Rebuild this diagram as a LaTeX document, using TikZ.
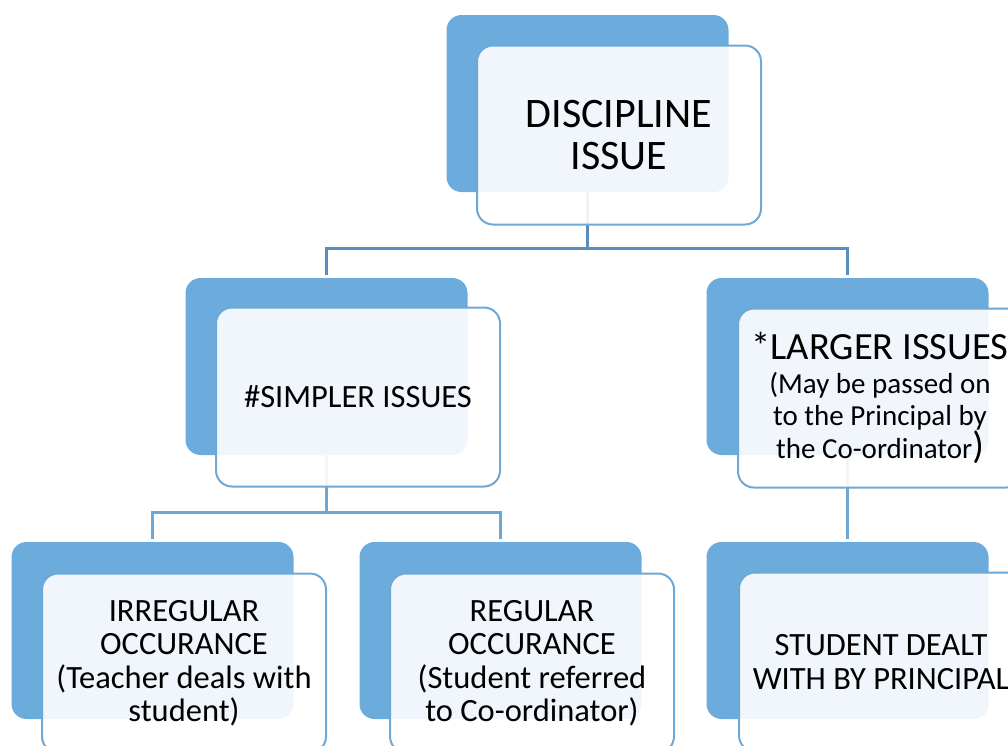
\documentclass[tikz,border=0pt]{standalone}
\usepackage{fontspec}
\setmainfont{Carlito}
\definecolor{backblue}{RGB}{108,172,220}
\definecolor{edgeblue}{RGB}{110,168,214}
\definecolor{linkdark}{RGB}{91,142,190}
\definecolor{linklight}{RGB}{108,168,214}
\tikzset{
  backbox/.style={fill=backblue, draw=none, rounded corners=15pt,
    minimum width=282pt, minimum height=177pt, inner sep=0pt},
  frontbox/.style={fill=white, fill opacity=0.9, text opacity=1, draw=edgeblue,
    draw opacity=1, line width=2pt, rounded corners=16pt,
    minimum width=284pt, minimum height=179pt, inner sep=0pt, align=center,
    text=black},
  linktop/.style={draw=linkdark, line width=2.6pt},
  linklow/.style={draw=linklight, line width=2.6pt},
  bigfont/.style={font=\fontsize{42}{42.5}\selectfont},
  midfont/.style={font=\fontsize{32.5}{33.5}\selectfont},
}
\begin{document}
\begin{tikzpicture}[x=1pt, y=-1pt]
\useasboundingbox (0,0) rectangle (1008,745);
\clip (0,0) rectangle (1008,745);

% coloured backing panels
\node[backbox] (topB)  at (587.5,103.5) {};
\node[backbox] (simpB) at (326.5,366.5) {};
\node[backbox] (largB) at (847.5,366.5) {};
\node[backbox] (irrB)  at (152.5,630.5) {};
\node[backbox] (regB)  at (500.5,630.5) {};
\node[backbox] (studB) at (847.5,630.5) {};

% junction points of the elbow connectors
\coordinate (j1) at (587.5,248.5);
\coordinate (j2) at (326.5,512.5);

% connectors
\draw[linktop] (topB.south) -- (j1);
\draw[linktop, shorten >=3pt] (j1) -| (simpB.north);
\draw[linktop, shorten >=3pt] (j1) -| (largB.north);
\draw[linklow] (simpB.south) -- (j2);
\draw[linklow, shorten >=3pt] (j2) -| (irrB.north);
\draw[linklow, shorten >=3pt] (j2) -| (regB.north);
\draw[linklow, shorten >=3pt] (largB.south) -- (studB.north);

% translucent text panels
\node[frontbox, bigfont] (topF) at (619,135) {DISCIPLINE\\ISSUE};
\node[frontbox, midfont] (simpF) at (358,397) {\#SIMPLER ISSUES};
\node[frontbox, font=\fontsize{29}{31.5}\selectfont] (largF) at (880,398)
  {{\fontsize{38.5}{31.5}\selectfont *LARGER ISSUES}\\[2.5pt]
   (May be passed on\\to the Principal by\\
   the Co-ordinator{\fontsize{38}{31.5}\selectfont)}};
\node[frontbox, midfont] (irrF) at (184,663)
  {IRREGULAR\\OCCURANCE\\(Teacher deals with\\student)};
\node[frontbox, midfont] (regF) at (532,663)
  {REGULAR\\OCCURANCE\\(Student referred\\to Co-ordinator)};
\node[frontbox, midfont] (studF) at (881,662)
  {STUDENT DEALT\\WITH BY PRINCIPAL};
\end{tikzpicture}
\end{document}
